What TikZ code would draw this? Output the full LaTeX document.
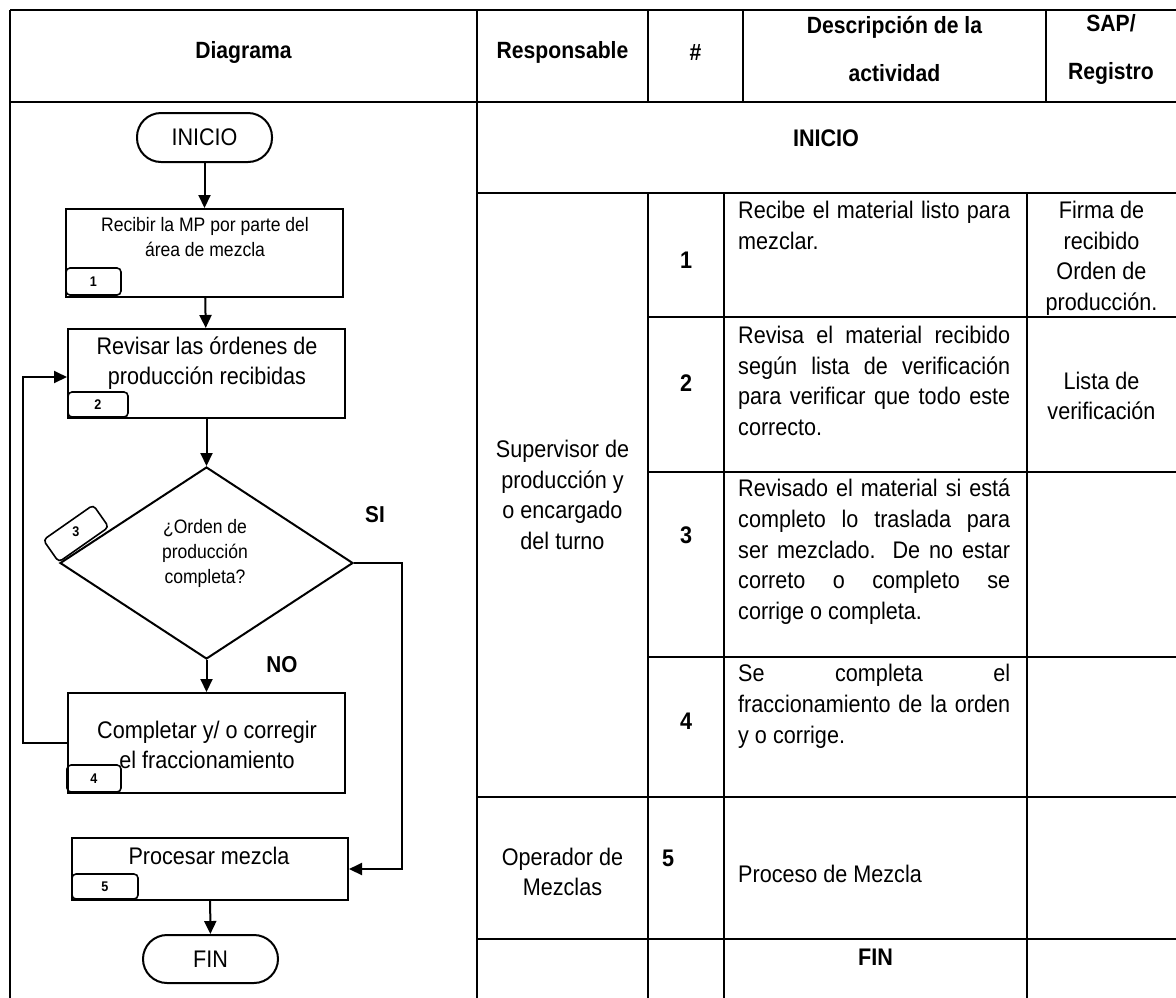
\documentclass[tikz,border=0pt]{standalone}
\usepackage{fontspec}
\setmainfont{Liberation Sans}[FakeStretch=0.9]
\usetikzlibrary{shapes.geometric,arrows.meta}

% one justified line of the given width
\newcommand\jline[1]{\makebox[272pt][s]{#1}}

\begin{document}
\begin{tikzpicture}[x=1pt,y=-1pt,
  grid/.style={line width=2.2pt},
  flow/.style={draw, line width=2pt},
  procbox/.style={flow, rectangle, minimum width=277pt, inner sep=0pt},
  term/.style={flow, rectangle, rounded corners=24pt, minimum width=135pt,
    minimum height=49pt, inner sep=0pt, font=\fontsize{24}{28}\selectfont},
  tag/.style={flow, line width=1.6pt, rectangle, rounded corners=4pt, inner sep=0pt},
  tagnum/.style={font=\bfseries\fontsize{14}{16}\selectfont, inner sep=0pt},
  link/.style={line width=2pt, -{Triangle[length=13pt,width=12pt]}},
  boxtext/.style={align=center, inner sep=0pt, font=\fontsize{24}{30}\selectfont},
  smalltext/.style={align=center, inner sep=0pt, font=\fontsize{19.5}{25}\selectfont},
  answer/.style={inner sep=0pt, font=\bfseries\fontsize{23}{26}\selectfont},
  head/.style={align=center, inner sep=0pt, font=\bfseries\fontsize{23.5}{48}\selectfont},
  strong/.style={inner sep=0pt, font=\bfseries\fontsize{24}{28}\selectfont},
  body/.style={inner sep=0pt, font=\fontsize{24}{30.7}\selectfont},
]
\useasboundingbox (0,0) rectangle (1176,997);

% ---------- table grid ----------
\draw[grid] (10,10) -- (1177,10);
\draw[grid] (10,10) -- (10,998);
\draw[grid] (10,102) -- (1177,102);
\draw[grid] (477,10) -- (477,998);
% header columns
\draw[grid] (648,10) -- (648,102);
\draw[grid] (743,10) -- (743,102);
\draw[grid] (1046,10) -- (1046,102);
% body columns
\draw[grid] (648,193) -- (648,998);
\draw[grid] (724,193) -- (724,998);
\draw[grid] (1027,193) -- (1027,998);
% body rows
\draw[grid] (477,193) -- (1177,193);
\draw[grid] (648,317) -- (1177,317);
\draw[grid] (648,472) -- (1177,472);
\draw[grid] (648,657) -- (1177,657);
\draw[grid] (477,797) -- (1177,797);
\draw[grid] (477,939) -- (1177,939);

% ---------- header ----------
\node[head] (hdiag) at (243.5,52) {Diagrama};
\node[head] (hresp) at (562.5,52) {Responsable};
\node[head] (hnum) at (695.5,52) {\#};
\node[head] (hdesc) at (894.5,49) {Descripción de la\\actividad};
\node[head] (hsap) at (1111,49) {SAP/\\Registro};

% ---------- table body ----------
\node[strong] (tinicio) at (826,138) {INICIO};
\node[strong] (num1) at (686,260) {1};
\node[strong] (num2) at (686,383) {2};
\node[strong] (num3) at (686,535) {3};
\node[strong] (num4) at (686,721) {4};
\node[strong] (num5) at (668,858) {5};

\node[body, align=center] (resp1) at (562.5,495)
  {Supervisor de\\producción y\\o encargado\\del turno};
\node[body, align=center] (resp2) at (562.5,872) {Operador de\\Mezclas};

\node[body, align=left, anchor=north west] (desc1) at (738,201)
  {\jline{Recibe el material listo para}\\mezclar.};
\node[body, align=left, anchor=north west] (desc2) at (738,326)
  {\jline{Revisa el material recibido}\\\jline{según lista de verificación}\\
   \jline{para verificar que todo este}\\correcto.};
\node[body, align=left, anchor=north west] (desc3) at (738,479)
  {\jline{Revisado el material si está}\\\jline{completo lo traslada para}\\
   \jline{ser mezclado. De no estar}\\\jline{correto o completo se}\\corrige o completa.};
\node[body, align=left, anchor=north west] (desc4) at (738,664)
  {\jline{Se completa el}\\\jline{fraccionamiento de la orden}\\y o corrige.};
\node[body, anchor=west] (desc5) at (738,874) {Proceso de Mezcla};

\node[body, align=center, anchor=north] (sap1) at (1101.5,201)
  {Firma de\\recibido\\Orden de\\producción.};
\node[body, align=center] (sap2) at (1101.5,396) {Lista de\\verificación};

\node[strong] (tfin) at (875.5,957) {FIN};

% ---------- flowchart ----------
\node[term] (start) at (204.5,137.5) {INICIO};
\node[procbox, minimum height=88pt] (b1) at (204.5,253) {};
\node[procbox, minimum height=89pt] (b2) at (206.5,373.5) {};
\node[flow, diamond, minimum width=293pt, minimum height=192pt, inner sep=0pt] (dec) at (206.5,563) {};
\node[procbox, minimum height=100pt] (b4) at (206.5,743) {};
\node[procbox, minimum width=276pt, minimum height=62pt] (b5) at (210,869) {};
\node[term, minimum height=48pt] (fin) at (210.5,959) {FIN};

% step tags
\node[tag, minimum width=55pt, minimum height=27pt] (t1) at (93.5,281.5) {};
\node[tag, minimum width=60pt, minimum height=25pt] (t2) at (98,404.5) {};
\node[tag, minimum width=61pt, minimum height=27pt, rotate=35] (t3) at (76,533.5) {};
\node[tag, minimum width=54pt, minimum height=27pt] (t4) at (94,778.5) {};
\node[tag, minimum width=66pt, minimum height=25pt] (t5) at (105,886.5) {};
\node[tagnum] (n1) at (t1) {1};
\node[tagnum] (n2) at (t2) {2};
\node[tagnum] (n3) at (76,532) {3};
\node[tagnum] (n4) at (t4) {4};
\node[tagnum] (n5) at (t5) {5};

% step texts
\node[smalltext] (b1txt) at (205,237.5) {Recibir la MP por parte del\\área de mezcla};
\node[boxtext] (b2txt) at (207,363) {Revisar las órdenes de\\producción recibidas};
\node[smalltext] (dectxt) at (205,553) {¿Orden de\\producción\\completa?};
\node[boxtext] (b4txt) at (207,745) {Completar y/ o corregir\\el fraccionamiento};
\node[boxtext] (b5txt) at (209,856) {Procesar mezcla};

\node[answer] (si) at (375,515) {SI};
\node[answer] (no) at (282,665) {NO};

% connectors
\coordinate (siturn) at (402,563);
\coordinate (loopbot) at (23,743);
\coordinate (looptop) at (23,377);
\draw[link] (start) -- (b1);
\draw[link] (b1) -- (b2);
\draw[link] (b2) -- (dec);
\draw[link] (dec) -- (b4);
\draw[link] (dec.east) -- (siturn) |- (b5.east);
\draw[link] (b4.west) -- (loopbot) -- (looptop) -- (b2.west |- looptop);
\draw[link] (b5) -- (fin);
\end{tikzpicture}
\end{document}
